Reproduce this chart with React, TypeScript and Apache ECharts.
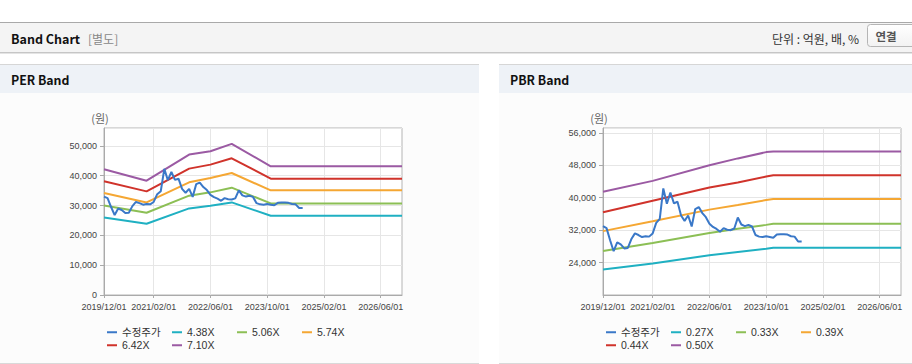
import React, { useEffect, useRef } from "react";
import * as echarts from "echarts";

// Monthly categories 2019/12/01 .. 2026/12/01
const months: string[] = [];
for (let i = 0; i < 85; i++) {
  const t = 2019 * 12 + 11 + i;
  const y = Math.floor(t / 12);
  const m = (t % 12) + 1;
  months.push(`${y}/${m < 10 ? "0" + m : m}/01`);
}

const xTickLabels = ["2019/12/01", "2021/02/01", "2022/06/01", "2023/10/01", "2025/02/01", "2026/06/01"];

// 수정주가 (monthly, 2019/12 .. 2024/08)
const price = [
  33000, 32500, 29500, 26800, 29000, 28500, 27500, 27600, 29800, 31200,
  30800, 30300, 30500, 30400, 31200, 33800, 34800, 42300, 38500, 41300,
  38600, 39000, 35600, 34300, 35600, 32900, 37200, 37700, 36200, 35200,
  33600, 32800, 32300, 31600, 32500, 32100, 32000, 32400, 35100, 33400,
  33000, 33300, 32900, 30800, 30400, 30300, 30500, 30300, 30100, 30900,
  31000, 31000, 30900, 30500, 30400, 29200, 29200,
];

// PER band break points
const perBandDates = ["2019/12/01", "2020/12/01", "2021/12/01", "2022/06/01", "2022/12/01", "2023/11/01", "2026/12/01"];
const per438 = [26010, 23880, 29040, 29930, 31050, 26570, 26570];
const per506 = [30040, 27580, 33300, 34420, 35990, 30720, 30720];
const per574 = [34190, 31050, 37780, 39240, 40920, 35090, 35090];
const per642 = [38120, 34750, 42380, 43720, 45850, 39010, 39010];
const per710 = [42150, 38340, 47090, 48200, 50670, 43160, 43160];

// PBR band break points
const pbrBandDates = ["2019/12/01", "2021/02/01", "2022/06/01", "2023/02/01", "2023/10/01", "2023/12/01", "2026/12/01"];
const pbr027 = [22290, 23760, 25800, 26610, 27430, 27670, 27670];
const pbr033 = [26860, 28820, 31270, 32330, 33300, 33550, 33550];
const pbr039 = [31760, 34200, 37060, 38200, 39430, 39670, 39670];
const pbr044 = [36400, 39270, 42530, 43750, 45220, 45550, 45550];
const pbr050 = [41470, 44160, 48000, 49700, 51250, 51430, 51430];

const perNames = ["수정주가", "4.38X", "5.06X", "5.74X", "6.42X", "7.10X"];
const pbrNames = ["수정주가", "0.27X", "0.33X", "0.39X", "0.44X", "0.50X"];
const colors = ["#3a78c8", "#1fb0c2", "#8cbf55", "#f5a733", "#d0332b", "#9b5aa3"];

const FONT_LATIN = 'Arial, "Liberation Sans", "Noto Sans CJK KR", sans-serif';
const FONT_KR = '"Noto Sans CJK KR", "Noto Sans", sans-serif';

const isTick = (_i: number, v: string) => xTickLabels.includes(v);

function makeX(gridIndex: number) {
  return {
    type: "category",
    gridIndex,
    data: months,
    boundaryGap: false,
    axisLine: { show: true, lineStyle: { color: "#aaaaaa" } },
    axisTick: { show: true, length: 3, interval: isTick, lineStyle: { color: "#aaaaaa" } },
    axisLabel: { interval: isTick, fontSize: 9, color: "#444", margin: 7, fontFamily: FONT_LATIN },
    splitLine: { show: true, interval: isTick, lineStyle: { color: "#e6e6e6" } },
  };
}

function makeY(gridIndex: number, min: number, max: number, interval: number) {
  return {
    type: "value",
    gridIndex,
    min,
    max,
    interval,
    name: "(원)",
    nameLocation: "end",
    nameGap: 5,
    nameTextStyle: { color: "#666", fontSize: 11, fontFamily: FONT_KR, align: "center", padding: [0, 8, 0, 0] },
    axisLine: { show: true, lineStyle: { color: "#aaaaaa" } },
    axisTick: { show: true, length: 4, lineStyle: { color: "#aaaaaa" } },
    axisLabel: {
      showMaxLabel: false,
      showMinLabel: min !== 0 ? false : true,
      fontSize: 9,
      color: "#444",
      margin: 7,
      fontFamily: FONT_LATIN,
      formatter: (v: number) => v.toLocaleString("en-US"),
    },
    splitLine: { show: true, lineStyle: { color: "#e6e6e6" } },
  };
}

function bandSeries(name: string, dates: string[], vals: number[], color: string, axis: number) {
  return {
    type: "line",
    name,
    xAxisIndex: axis,
    yAxisIndex: axis,
    data: dates.map((d, i) => [d, vals[i]]),
    showSymbol: false,
    symbol: "none",
    color,
    lineStyle: { width: 2, color },
    itemStyle: { color },
    z: 2,
  };
}

function priceSeries(axis: number) {
  return {
    type: "line",
    name: "수정주가",
    xAxisIndex: axis,
    yAxisIndex: axis,
    data: price.map((v, i) => [months[i], v]),
    showSymbol: false,
    symbol: "none",
    color: colors[0],
    lineStyle: { width: 2, color: colors[0] },
    itemStyle: { color: colors[0] },
    z: 3,
  };
}

function makeLegend(left: number, top: number, names: string[]) {
  return {
    left,
    top,
    orient: "horizontal",
    padding: 0,
    itemGap: 5,
    itemWidth: 10,
    itemHeight: 2,
    icon: "rect",
    data: names,
    textStyle: { fontSize: 10.5, color: "#333", width: 45, lineHeight: 8, fontFamily: FONT_LATIN },
  };
}

const graphicElements: any[] = [
  // top header bar
  { type: "rect", z: -10, shape: { x: 0, y: 22, width: 912, height: 31 }, style: { fill: "#f4f4f4" } },
  { type: "line", z: -9, shape: { x1: 0, y1: 22.5, x2: 912, y2: 22.5 }, style: { stroke: "#a9a9a9", lineWidth: 1 } },
  { type: "line", z: -9, shape: { x1: 0, y1: 52.5, x2: 912, y2: 52.5 }, style: { stroke: "#c6c6c6", lineWidth: 1 } },
  { type: "line", z: -9, shape: { x1: 0, y1: 53.5, x2: 912, y2: 53.5 }, style: { stroke: "#e4e4e4", lineWidth: 1 } },
  { type: "text", z: 10, x: 11, y: 38, style: { text: "Band Chart", fill: "#111", font: `bold 12.5px ${FONT_KR}`, verticalAlign: "middle" } },
  { type: "text", z: 10, x: 88, y: 38, style: { text: "[별도]", fill: "#888", font: `12px ${FONT_KR}`, verticalAlign: "middle" } },
  { type: "text", z: 10, x: 859, y: 38, style: { text: "단위 : 억원, 배, %", fill: "#333", font: `12px ${FONT_KR}`, align: "right", verticalAlign: "middle" } },
  {
    type: "rect",
    z: 10,
    shape: { x: 867.5, y: 24.5, width: 50, height: 22, r: 3 },
    style: {
      fill: new echarts.graphic.LinearGradient(0, 0, 0, 1, [
        { offset: 0, color: "#ffffff" },
        { offset: 1, color: "#f2f2f2" },
      ]),
      stroke: "#b5b5b5",
      lineWidth: 1,
    },
  },
  { type: "text", z: 11, x: 886, y: 36, style: { text: "연결", fill: "#555", font: `bold 11.5px ${FONT_KR}`, align: "center", verticalAlign: "middle" } },

  // PER panel
  { type: "rect", z: -10, shape: { x: 0, y: 64, width: 479, height: 300 }, style: { fill: "#fcfcfc" } },
  { type: "rect", z: -9, shape: { x: 0, y: 65, width: 479, height: 28 }, style: { fill: "#eef2f7" } },
  { type: "line", z: -8, shape: { x1: 0, y1: 64.5, x2: 479, y2: 64.5 }, style: { stroke: "#d6d6d6", lineWidth: 1 } },
  { type: "line", z: -8, shape: { x1: 0, y1: 363.5, x2: 479, y2: 363.5 }, style: { stroke: "#d9d9d9", lineWidth: 1 } },
  { type: "text", z: 10, x: 11, y: 80, style: { text: "PER Band", fill: "#111", font: `bold 12.3px ${FONT_KR}`, verticalAlign: "middle" } },

  // PBR panel
  { type: "rect", z: -10, shape: { x: 499, y: 64, width: 413, height: 300 }, style: { fill: "#fcfcfc" } },
  { type: "rect", z: -9, shape: { x: 499, y: 65, width: 413, height: 28 }, style: { fill: "#eef2f7" } },
  { type: "line", z: -8, shape: { x1: 499, y1: 64.5, x2: 912, y2: 64.5 }, style: { stroke: "#d6d6d6", lineWidth: 1 } },
  { type: "line", z: -8, shape: { x1: 499, y1: 363.5, x2: 912, y2: 363.5 }, style: { stroke: "#d9d9d9", lineWidth: 1 } },
  { type: "text", z: 10, x: 510, y: 80, style: { text: "PBR Band", fill: "#111", font: `bold 12.3px ${FONT_KR}`, verticalAlign: "middle" } },
];

const option: any = {
  animation: false,
  backgroundColor: "#ffffff",
  graphic: { elements: graphicElements },
  grid: [
    { left: 104, top: 128, width: 298, height: 167, show: true, backgroundColor: "#ffffff", borderColor: "#b4b4b4", borderWidth: 1, containLabel: false },
    { left: 603, top: 128, width: 298, height: 167, show: true, backgroundColor: "#ffffff", borderColor: "#b4b4b4", borderWidth: 1, containLabel: false },
  ],
  xAxis: [makeX(0), makeX(1)],
  yAxis: [makeY(0, 0, 56000, 10000), makeY(1, 16000, 57200, 8000)],
  legend: [
    makeLegend(107, 327, perNames.slice(0, 4)),
    makeLegend(107, 340, perNames.slice(4)),
    makeLegend(606, 327, pbrNames.slice(0, 4)),
    makeLegend(606, 340, pbrNames.slice(4)),
  ],
  series: [
    bandSeries("4.38X", perBandDates, per438, colors[1], 0),
    bandSeries("5.06X", perBandDates, per506, colors[2], 0),
    bandSeries("5.74X", perBandDates, per574, colors[3], 0),
    bandSeries("6.42X", perBandDates, per642, colors[4], 0),
    bandSeries("7.10X", perBandDates, per710, colors[5], 0),
    priceSeries(0),
    bandSeries("0.27X", pbrBandDates, pbr027, colors[1], 1),
    bandSeries("0.33X", pbrBandDates, pbr033, colors[2], 1),
    bandSeries("0.39X", pbrBandDates, pbr039, colors[3], 1),
    bandSeries("0.44X", pbrBandDates, pbr044, colors[4], 1),
    bandSeries("0.50X", pbrBandDates, pbr050, colors[5], 1),
    priceSeries(1),
  ],
};

export default function App() {
  const ref = useRef<HTMLDivElement>(null);
  useEffect(() => {
    if (!ref.current) return;
    const chart = echarts.init(ref.current, null, { renderer: "svg" });
    chart.setOption(option);
    return () => chart.dispose();
  }, []);
  return <div ref={ref} style={{ position: "fixed", left: 0, top: 0, width: 912, height: 364 }} />;
}
